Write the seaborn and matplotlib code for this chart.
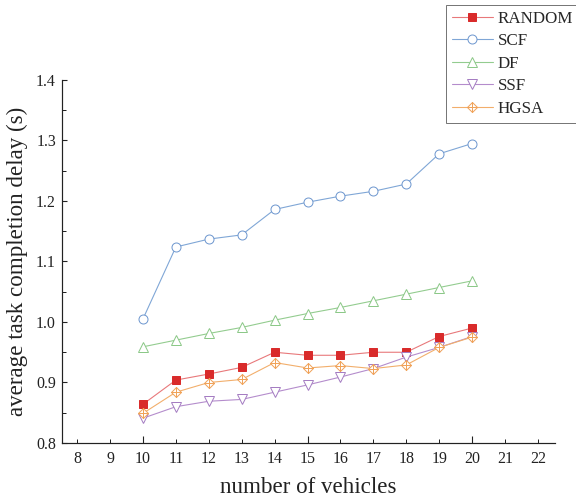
import numpy as np
import pandas as pd
import matplotlib
matplotlib.use("Agg")
import matplotlib.pyplot as plt
import seaborn as sns
from matplotlib.path import Path
from matplotlib.ticker import MultipleLocator, FuncFormatter
from matplotlib.lines import Line2D

vehicles = [10, 11, 12, 13, 14, 15, 16, 17, 18, 19, 20]
random_vals = [0.864, 0.904, 0.914, 0.925, 0.950, 0.945, 0.945, 0.950, 0.950, 0.976, 0.990]
scf_vals = [1.005, 1.124, 1.137, 1.144, 1.186, 1.198, 1.208, 1.216, 1.228, 1.278, 1.295]
df_vals = [0.959, 0.970, 0.981, 0.991, 1.003, 1.014, 1.024, 1.035, 1.046, 1.057, 1.068]
ssf_vals = [0.841, 0.860, 0.869, 0.872, 0.884, 0.896, 0.909, 0.923, 0.942, 0.958, 0.976]
hgsa_vals = [0.849, 0.884, 0.900, 0.905, 0.933, 0.924, 0.928, 0.923, 0.929, 0.958, 0.975]
series_names = ["RANDOM", "SCF", "DF", "SSF", "HGSA"]

sns.set_style("ticks")
plt.rcParams['font.family'] = ['Liberation Serif', 'DejaVu Serif']
plt.rcParams['mathtext.fontset'] = 'stix'

# diamond with cross marker
dv = [(0, 1), (1, 0), (0, -1), (-1, 0), (0, 1), (0, 1), (0, -1), (-1, 0), (1, 0)]
dc = [Path.MOVETO, Path.LINETO, Path.LINETO, Path.LINETO, Path.CLOSEPOLY,
      Path.MOVETO, Path.LINETO, Path.MOVETO, Path.LINETO]
diamond_plus = Path(dv, dc)

styles = {
    "RANDOM": dict(color="#e8787a", mc="#d92b2b", mfc="#d92b2b", marker="s", ms=8),
    "SCF": dict(color="#7fa6d6", mc="#6f98cf", mfc="white", marker="o", ms=9),
    "DF": dict(color="#93cc8f", mc="#8cc888", mfc="white", marker="^", ms=10),
    "SSF": dict(color="#b48ccc", mc="#a57dc2", mfc="white", marker="v", ms=10),
    "HGSA": dict(color="#f2ae6b", mc="#f0a35a", mfc="white", marker=diamond_plus, ms=10),
}

data = {"RANDOM": random_vals, "SCF": scf_vals, "DF": df_vals, "SSF": ssf_vals, "HGSA": hgsa_vals}

fig = plt.figure(figsize=(8, 7), dpi=72)
ax = fig.add_axes([62 / 576, 61 / 504, (555 - 62) / 576, (443 - 80) / 504])

handles = []
for name in series_names:
    st = styles[name]
    df = pd.DataFrame({"x": vehicles, "y": data[name]})
    sns.lineplot(data=df, x="x", y="y", ax=ax, color=st["color"], linewidth=1.1,
                 marker=st["marker"], markersize=st["ms"], markerfacecolor=st["mfc"],
                 markeredgecolor=st["mc"], markeredgewidth=1.0)
    handles.append(Line2D([], [], color=st["color"], linewidth=1.1, marker=st["marker"],
                          markersize=st["ms"], markerfacecolor=st["mfc"],
                          markeredgecolor=st["mc"], markeredgewidth=1.0))

ax.set_xlim(7.54, 22.52)
ax.set_ylim(0.8, 1.4)
sns.despine(ax=ax)
for s in ["left", "bottom"]:
    ax.spines[s].set_linewidth(1.2)
    ax.spines[s].set_color("#222222")

ax.xaxis.set_major_locator(MultipleLocator(5))
ax.xaxis.set_minor_locator(MultipleLocator(1))
ax.xaxis.set_major_formatter(FuncFormatter(lambda v, p: f"{int(round(v))}"))
ax.xaxis.set_minor_formatter(FuncFormatter(lambda v, p: f"{int(round(v))}"))
ax.yaxis.set_major_locator(MultipleLocator(0.1))
ax.yaxis.set_minor_locator(MultipleLocator(0.05))
ax.yaxis.set_major_formatter(FuncFormatter(lambda v, p: f"{v:.1f}"))

ax.tick_params(axis="both", which="both", direction="in", labelsize=16, color="#222222",
               labelcolor="#222222")
ax.tick_params(axis="x", which="major", length=7, width=1.1, pad=8)
ax.tick_params(axis="x", which="minor", length=4, width=1.0, pad=8, labelsize=16)
ax.tick_params(axis="y", which="major", length=5, width=1.1, pad=6)
ax.tick_params(axis="y", which="minor", length=4, width=1.0)

ax.set_xlabel("number of vehicles", fontsize=23, labelpad=10, color="#222222")
ax.set_ylabel("average task completion delay (s)", fontsize=23, labelpad=8, color="#222222")

leg = fig.legend(handles, series_names, loc="upper left",
                 bbox_to_anchor=(446 / 576, 1 - 5 / 504), fontsize=17,
                 frameon=True, fancybox=False, handlelength=2.4, handletextpad=0.3,
                 labelspacing=0.38, borderpad=0.35, borderaxespad=0)
leg.get_frame().set_edgecolor("#555555")
leg.get_frame().set_linewidth(1.0)

fig.savefig("out.png", dpi=72)
